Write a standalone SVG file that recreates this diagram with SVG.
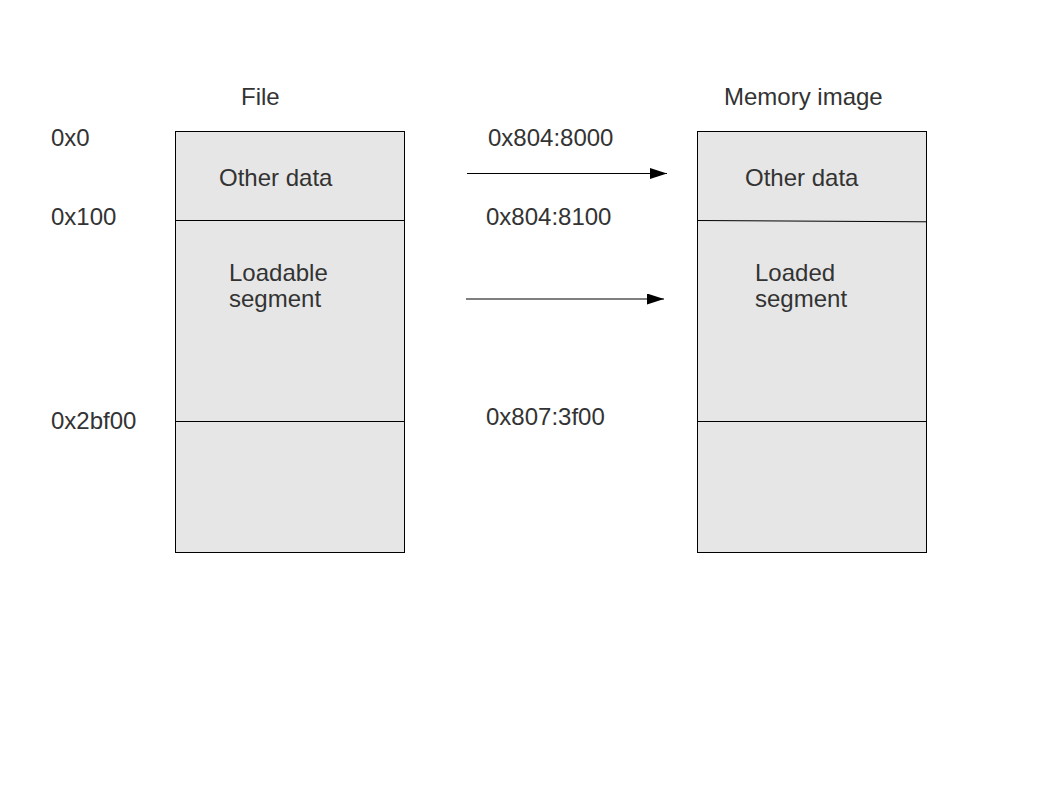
<svg xmlns="http://www.w3.org/2000/svg" width="1058" height="794" viewBox="0 0 1058 794">
<style>
text{font-family:"Liberation Sans",Arial,sans-serif;font-size:24px;fill:#333333}
.box{fill:#e6e6e6;stroke:#000;stroke-width:1}
.div{stroke:#000;stroke-width:1;fill:none}
.conn{stroke:#000;stroke-width:1.2;fill:none}
</style>
<defs>
<marker id="ah" markerWidth="17" markerHeight="11" refX="17" refY="5.5" orient="auto" markerUnits="userSpaceOnUse">
<path d="M0,0 L17,5.5 L0,11 Z" fill="#000"/>
</marker>
</defs>
<rect width="1058" height="794" fill="#fff"/>
<g id="file">
<text x="241" y="105">File</text>
<rect class="box" x="175.5" y="131.5" width="229" height="421"/>
<line class="div" x1="175.5" y1="220.5" x2="404.5" y2="220.5"/>
<line class="div" x1="175.5" y1="421.5" x2="404.5" y2="421.5"/>
<text x="219" y="186">Other data</text>
<text x="229" y="281">Loadable</text>
<text x="229" y="307">segment</text>
</g>
<g id="memory">
<text x="724" y="105">Memory image</text>
<rect class="box" x="697.5" y="131.5" width="229" height="421"/>
<line class="div" x1="697.5" y1="220.5" x2="926.5" y2="221.8" stroke="#444"/>
<line class="div" x1="697.5" y1="421.5" x2="926.5" y2="421.5"/>
<text x="745" y="186">Other data</text>
<text x="755" y="281">Loaded</text>
<text x="755" y="307">segment</text>
</g>
<g id="file-offsets">
<text x="51" y="146">0x0</text>
<text x="51" y="225">0x100</text>
<text x="51" y="429">0x2bf00</text>
</g>
<g id="addresses">
<text x="488" y="146">0x804:8000</text>
<text x="486" y="225">0x804:8100</text>
<text x="486" y="425">0x807:3f00</text>
</g>
<g id="connectors">
<line class="conn" x1="467" y1="173.5" x2="667" y2="173.5" marker-end="url(#ah)"/>
<line class="conn" x1="466" y1="299" x2="664" y2="299" marker-end="url(#ah)"/>
</g>
</svg>
